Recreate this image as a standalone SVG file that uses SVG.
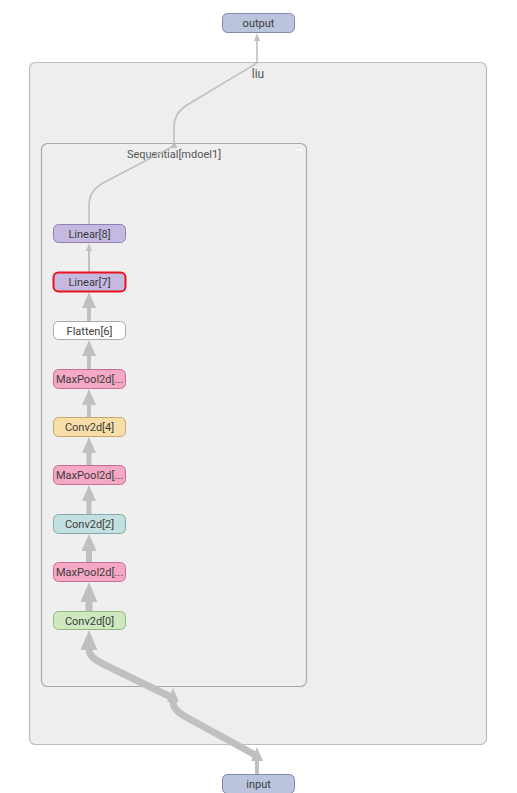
<svg xmlns="http://www.w3.org/2000/svg" width="517" height="793" viewBox="0 0 517 793">
<style>
.grp{fill:#eeeeee;stroke:#bdbdbd;stroke-width:1.2}
.seq{fill:#efefef;stroke:#a9a9a9;stroke-width:1.2}
.n{stroke-width:1}
.t{font-family:Roboto,"Liberation Sans",sans-serif;font-size:11px;fill:#3c3c3c;text-anchor:middle}
.gl{font-family:Roboto,"Liberation Sans",sans-serif;font-size:11px;fill:#555;text-anchor:middle}
.e{fill:none;stroke:#c0c0c0}
.ah{fill:#c0c0c0}
</style>
<defs>
<marker id="a17" viewBox="0 0 20 17" refX="2" refY="8.5" markerWidth="20" markerHeight="17" markerUnits="userSpaceOnUse" orient="auto">
<path class="ah" d="M0,0 L20,8.5 L0,17 z"/>
</marker>
<marker id="a15" viewBox="0 0 17 15" refX="2" refY="7.5" markerWidth="17" markerHeight="15" markerUnits="userSpaceOnUse" orient="auto">
<path class="ah" d="M0,0 L17,7.5 L0,15 z"/>
</marker>
<marker id="a14" viewBox="0 0 16 14" refX="2" refY="7" markerWidth="16" markerHeight="14" markerUnits="userSpaceOnUse" orient="auto">
<path class="ah" d="M0,0 L16,7 L0,14 z"/>
</marker>
<marker id="a12" viewBox="0 0 14 12" refX="2" refY="6" markerWidth="14" markerHeight="12" markerUnits="userSpaceOnUse" orient="auto">
<path class="ah" d="M0,0 L14,6 L0,12 z"/>
</marker>
<marker id="a6" viewBox="0 0 8 6" refX="2" refY="3" markerWidth="8" markerHeight="6" markerUnits="userSpaceOnUse" orient="auto">
<path class="ah" d="M0,0 L8,3 L0,6 z"/>
</marker>
</defs>
<rect width="517" height="793" fill="#ffffff"/>
<g id="liu">
<rect class="grp" x="29.5" y="62.5" width="457" height="682" rx="6"/>
<text class="gl" x="258" y="78" style="font-size:12px">liu</text>
</g>
<g id="sequential">
<rect class="seq" x="41.5" y="143.5" width="265" height="543" rx="6"/>
<text class="gl" x="174" y="158">Sequential[mdoel1]</text>
<line x1="296" y1="150" x2="302" y2="150" stroke="#ffffff" stroke-width="1.5"/>
</g>
<g id="connectors">
<path class="e" style="stroke-width:4" marker-end="url(#a12)" d="M257,774 L257,759"/>
<path class="e" style="stroke-width:7" marker-end="url(#a12)" d="M257,756 L186,717 Q173,710 173,702 L173,700"/>
<path class="e" style="stroke-width:7" marker-end="url(#a17)" d="M173,698 L103,664 Q89,657 89,650 L89,648"/>
<path class="e" style="stroke-width:7" marker-end="url(#a17)" d="M89,611 L89,600"/>
<path class="e" style="stroke-width:6" marker-end="url(#a15)" d="M89,562 L89,549"/>
<path class="e" style="stroke-width:5" marker-end="url(#a14)" d="M89,514 L89,499"/>
<path class="e" style="stroke-width:5" marker-end="url(#a14)" d="M89,465 L89,451"/>
<path class="e" style="stroke-width:4" marker-end="url(#a14)" d="M89,417 L89,403"/>
<path class="e" style="stroke-width:4" marker-end="url(#a14)" d="M89,369 L89,354"/>
<path class="e" style="stroke-width:4" marker-end="url(#a14)" d="M89,321 L89,306"/>
<path class="e" style="stroke-width:2" marker-end="url(#a6)" d="M89,272 L89,249"/>
<path class="e" style="stroke-width:1.6" d="M89,224 L89,205 Q89,191 103,183 L170,148 Q174,146 174,144"/>
<polygon class="ah" points="174,141 170.5,148 177.5,148"/>
<path class="e" style="stroke-width:1.6" d="M174,143 L174,127 Q174,113 187,105 L257,63"/>
<path class="e" style="stroke-width:1.6" marker-end="url(#a6)" d="M257,63 L257,39"/>
</g>
<g id="output">
<rect class="n" x="222.5" y="13.5" width="72" height="19" rx="5" fill="#bac4dd" stroke="#7f8aa8"/>
<text class="t" x="258.5" y="27">output</text>
</g>
<g id="input">
<rect class="n" x="222.5" y="774.5" width="72" height="19" rx="5" fill="#bac4dd" stroke="#7f8aa8"/>
<text class="t" x="258.5" y="788">input</text>
</g>
<g id="linear8">
<rect class="n" x="53.5" y="224.5" width="72" height="18" rx="5" fill="#c6b9e1" stroke="#8f80b8"/>
<text class="t" x="89.5" y="237.5">Linear[8]</text>
</g>
<g id="linear7">
<rect x="53.5" y="272.5" width="72" height="19" rx="5" fill="#c6b9e1" stroke="#e8131b" stroke-width="2"/>
<text class="t" x="89.5" y="286">Linear[7]</text>
</g>
<g id="flatten6">
<rect class="n" x="53.5" y="321.5" width="72" height="18" rx="5" fill="#ffffff" stroke="#aaaaaa"/>
<text class="t" x="89.5" y="334.5">Flatten[6]</text>
</g>
<g id="maxpool5">
<rect class="n" x="53.5" y="369.5" width="72" height="19" rx="5" fill="#f5a8c5" stroke="#c96d92"/>
<text class="t" x="89.5" y="383">MaxPool2d[...</text>
</g>
<g id="conv4">
<rect class="n" x="53.5" y="417.5" width="72" height="19" rx="5" fill="#f7dea8" stroke="#c9a66b"/>
<text class="t" x="89.5" y="431">Conv2d[4]</text>
</g>
<g id="maxpool3">
<rect class="n" x="53.5" y="465.5" width="72" height="19" rx="5" fill="#f5a8c5" stroke="#c96d92"/>
<text class="t" x="89.5" y="479">MaxPool2d[...</text>
</g>
<g id="conv2">
<rect class="n" x="53.5" y="514.5" width="72" height="19" rx="5" fill="#c2e0e0" stroke="#82abaa"/>
<text class="t" x="89.5" y="528">Conv2d[2]</text>
</g>
<g id="maxpool1">
<rect class="n" x="53.5" y="562.5" width="72" height="19" rx="5" fill="#f5a8c5" stroke="#c96d92"/>
<text class="t" x="89.5" y="576">MaxPool2d[...</text>
</g>
<g id="conv0">
<rect class="n" x="53.5" y="611.5" width="72" height="18" rx="5" fill="#cfe8c0" stroke="#91b97e"/>
<text class="t" x="89.5" y="624.5">Conv2d[0]</text>
</g>
</svg>
